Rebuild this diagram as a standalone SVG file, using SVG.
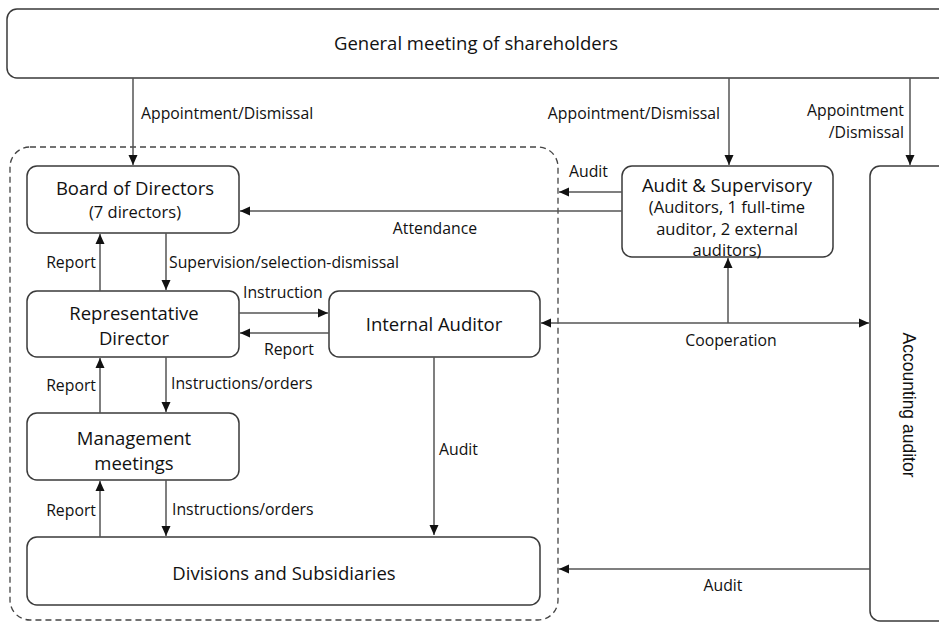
<svg xmlns="http://www.w3.org/2000/svg" width="939" height="623" viewBox="0 0 939 623">
  <style>
    .box { fill: #ffffff; stroke: #3a3a3a; stroke-width: 1.5; }
    .group { fill: none; stroke: #444444; stroke-width: 1.3; stroke-dasharray: 6 4; }
    .line { fill: none; stroke: #555555; stroke-width: 1.5; }
    .t { font-family: "Open Sans", "Liberation Sans", sans-serif; fill: #111111; dominant-baseline: central; }
    .big { font-size: 18.5px; text-anchor: middle; }
    .mid { font-size: 16.5px; text-anchor: middle; }
    .lbl { font-size: 15.8px; }
    .side { font-family: "Liberation Sans", Arial, sans-serif; font-size: 17.5px; fill: #111111; text-anchor: middle; }
  </style>
  <defs>
    <marker id="arrow" viewBox="0 0 10 10" refX="10" refY="5" markerWidth="10" markerHeight="10" markerUnits="userSpaceOnUse" orient="auto-start-reverse">
      <path d="M0,0.5 L10,5 L0,9.5 Z" fill="#111111"/>
    </marker>
  </defs>

  <rect width="939" height="623" fill="#ffffff"/>

  <!-- dashed company boundary -->
  <rect id="company" class="group" x="10" y="147" width="548" height="473" rx="20"/>

  <g id="shareholders">
    <rect class="box" x="7" y="9" width="960" height="69" rx="10"/>
    <text class="t big" x="476" y="42">General meeting of shareholders</text>
  </g>

  <g id="board">
    <rect class="box" x="27" y="166" width="212" height="67" rx="10"/>
    <text class="t big" x="135" y="187">Board of Directors</text>
    <text class="t mid" x="135" y="211">(7 directors)</text>
  </g>

  <g id="audit-supervisory">
    <rect class="box" x="622" y="166" width="211" height="91" rx="10"/>
    <text class="t big" x="727" y="184">Audit &amp; Supervisory</text>
    <text class="t mid" x="727" y="206">(Auditors, 1 full-time</text>
    <text class="t mid" x="727" y="228">auditor, 2 external</text>
    <text class="t mid" x="727" y="249">auditors)</text>
  </g>

  <g id="accounting-auditor">
    <rect class="box" x="870" y="166" width="100" height="455" rx="10"/>
    <text class="side" transform="translate(903 405) rotate(90)" x="0" y="0">Accounting auditor</text>
  </g>

  <g id="representative">
    <rect class="box" x="27" y="291" width="212" height="66" rx="10"/>
    <text class="t big" x="134" y="312">Representative</text>
    <text class="t big" x="134" y="337">Director</text>
  </g>

  <g id="internal-auditor">
    <rect class="box" x="329" y="291" width="211" height="66" rx="10"/>
    <text class="t big" x="434" y="323">Internal Auditor</text>
  </g>

  <g id="management">
    <rect class="box" x="27" y="413" width="212" height="67" rx="10"/>
    <text class="t big" x="134" y="437">Management</text>
    <text class="t big" x="134" y="462">meetings</text>
  </g>

  <g id="divisions">
    <rect class="box" x="27" y="537" width="513" height="68" rx="10"/>
    <text class="t big" x="284" y="572">Divisions and Subsidiaries</text>
  </g>

  <g id="connectors">
    <!-- appointment / dismissal -->
    <line class="line" x1="133" y1="78" x2="133" y2="165" marker-end="url(#arrow)"/>
    <line class="line" x1="729" y1="78" x2="729" y2="165" marker-end="url(#arrow)"/>
    <line class="line" x1="910" y1="78" x2="910" y2="165" marker-end="url(#arrow)"/>

    <!-- audit & supervisory to company -->
    <line class="line" x1="622" y1="192" x2="559" y2="192" marker-end="url(#arrow)"/>
    <line class="line" x1="622" y1="211" x2="240" y2="211" marker-end="url(#arrow)"/>

    <!-- board / representative -->
    <line class="line" x1="100" y1="291" x2="100" y2="234" marker-end="url(#arrow)"/>
    <line class="line" x1="166" y1="233" x2="166" y2="290" marker-end="url(#arrow)"/>

    <!-- representative / internal auditor -->
    <line class="line" x1="239" y1="313" x2="328" y2="313" marker-end="url(#arrow)"/>
    <line class="line" x1="329" y1="333" x2="240" y2="333" marker-end="url(#arrow)"/>

    <!-- cooperation -->
    <line class="line" x1="541" y1="323" x2="869" y2="323" marker-start="url(#arrow)" marker-end="url(#arrow)"/>
    <line class="line" x1="728" y1="323" x2="728" y2="258" marker-end="url(#arrow)"/>

    <!-- representative / management -->
    <line class="line" x1="100" y1="413" x2="100" y2="358" marker-end="url(#arrow)"/>
    <line class="line" x1="166" y1="357" x2="166" y2="412" marker-end="url(#arrow)"/>

    <!-- management / divisions -->
    <line class="line" x1="100" y1="537" x2="100" y2="481" marker-end="url(#arrow)"/>
    <line class="line" x1="166" y1="480" x2="166" y2="536" marker-end="url(#arrow)"/>

    <!-- internal audit -->
    <line class="line" x1="434" y1="357" x2="434" y2="535" marker-end="url(#arrow)"/>

    <!-- accounting audit -->
    <line class="line" x1="870" y1="569" x2="559" y2="569" marker-end="url(#arrow)"/>
  </g>

  <g id="labels">
    <text class="t lbl" x="141" y="113">Appointment/Dismissal</text>
    <text class="t lbl" x="720" y="113" text-anchor="end">Appointment/Dismissal</text>
    <text class="t lbl" x="904" y="110" text-anchor="end">Appointment</text>
    <text class="t lbl" x="904" y="132" text-anchor="end">/Dismissal</text>
    <text class="t lbl" x="569" y="171">Audit</text>
    <text class="t lbl" x="435" y="228" text-anchor="middle">Attendance</text>
    <text class="t lbl" x="96" y="262" text-anchor="end">Report</text>
    <text class="t lbl" x="169" y="262">Supervision/selection-dismissal</text>
    <text class="t lbl" x="243" y="292">Instruction</text>
    <text class="t lbl" x="264" y="349">Report</text>
    <text class="t lbl" x="731" y="340" text-anchor="middle">Cooperation</text>
    <text class="t lbl" x="96" y="385" text-anchor="end">Report</text>
    <text class="t lbl" x="171" y="383">Instructions/orders</text>
    <text class="t lbl" x="439" y="449">Audit</text>
    <text class="t lbl" x="96" y="510" text-anchor="end">Report</text>
    <text class="t lbl" x="172" y="509">Instructions/orders</text>
    <text class="t lbl" x="723" y="585" text-anchor="middle">Audit</text>
  </g>
</svg>
